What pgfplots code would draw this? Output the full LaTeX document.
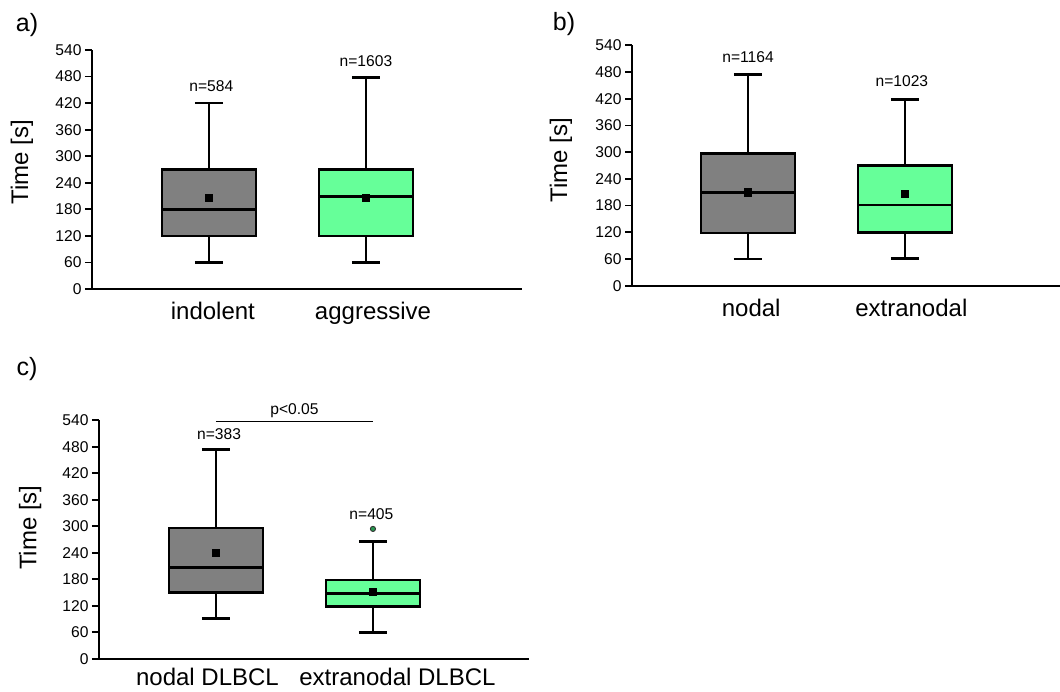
\documentclass[border=0pt]{standalone}
\usepackage{fontspec}
\setmainfont{Liberation Sans}
\usepackage{pgfplots}
\pgfplotsset{compat=1.18}
\usepgfplotslibrary{statistics}

\definecolor{boxgray}{RGB}{128,128,128}
\definecolor{boxgreen}{RGB}{102,255,153}
\definecolor{dotgreen}{RGB}{40,150,80}

\newcommand{\tickfont}{\fontsize{15.6}{18}\selectfont}
\newcommand{\labfont}{\fontsize{24}{28}\selectfont}

\pgfplotsset{
  panel/.style={
    scale only axis,
    axis x line=bottom, axis y line=left,
    axis line style={-, line width=2pt},
    ymin=0, ymax=540, ytick={0,60,...,540},
    xtick style={draw=none},
    ytick style={line width=1.8pt, black},
    tick align=outside, major tick length=7pt,
    yticklabel style={font=\tickfont},
    xticklabel style={font=\labfont},
    /pgf/number format/assume math mode=true,
    clip=false,
    ylabel={Time [s]},
    boxplot/draw direction=y,
  },
  meanmark/.style={only marks, mark=square*, mark size=3.6pt, black},
}

\begin{document}
\begin{tikzpicture}
\useasboundingbox (0,0) rectangle (1060pt,691pt);

% a) indolent vs aggressive
\begin{axis}[panel, at={(92pt,402pt)}, anchor=south west,
  width=430pt, height=239pt, xmin=0.255, xmax=2.994,
  xtick={1.025,2.045}, xticklabels={indolent, aggressive},
  xticklabel style={yshift=-3pt},
  ylabel style={font=\labfont, anchor=center, at={(axis description cs:-0.163,0.53)}}]
\addplot[draw=black, fill=boxgray, line width=2.5pt,
  boxplot prepared={draw direction=y, draw position=1,
  lower whisker=60, lower quartile=120, median=180,
  upper quartile=270, upper whisker=420,
  box extend=0.6, whisker extend=0.18}] coordinates {};
\addplot[draw=black, fill=boxgreen, line width=2.5pt,
  boxplot prepared={draw direction=y, draw position=2,
  lower whisker=60, lower quartile=120, median=209,
  upper quartile=270, upper whisker=478,
  box extend=0.6, whisker extend=0.18}] coordinates {};
\addplot[meanmark] coordinates {(1,207) (2,207)};
\node[font=\tickfont] at (axis cs:1.015,459) {n=584};
\node[font=\tickfont] at (axis cs:2,514) {n=1603};
\end{axis}

% b) nodal vs extranodal
\begin{axis}[panel, at={(632pt,405.3pt)}, anchor=south west,
  width=428pt, height=240.4pt, xmin=0.261, xmax=2.987,
  xtick={1.02,2.04}, xticklabels={nodal, extranodal},
  xticklabel style={yshift=-3pt},
  ylabel style={font=\labfont, anchor=center, at={(axis description cs:-0.166,0.523)}}]
\addplot[draw=black, fill=boxgray, line width=2.5pt,
  boxplot prepared={draw direction=y, draw position=1,
  lower whisker=60, lower quartile=118, median=209,
  upper quartile=297, upper whisker=474,
  box extend=0.6, whisker extend=0.18}] coordinates {};
\addplot[draw=black, fill=boxgreen, line width=2.5pt,
  boxplot prepared={draw direction=y, draw position=2,
  lower whisker=61, lower quartile=120, median=181,
  upper quartile=270, upper whisker=418,
  box extend=0.6, whisker extend=0.18}] coordinates {};
\addplot[meanmark] coordinates {(1,210) (2,207)};
\node[font=\tickfont] at (axis cs:1,514) {n=1164};
\node[font=\tickfont] at (axis cs:1.98,460) {n=1023};
\end{axis}

% c) nodal DLBCL vs extranodal DLBCL
\begin{axis}[panel, at={(99pt,32.3pt)}, anchor=south west,
  width=430pt, height=238.4pt, xmin=0.255, xmax=2.994,
  xtick={0.946,2.156}, xticklabels={nodal DLBCL, extranodal DLBCL},
  xticklabel style={yshift=1pt},
  ylabel style={font=\labfont, anchor=center, at={(axis description cs:-0.160,0.55)}}]
\addplot[draw=black, fill=boxgray, line width=2.5pt,
  boxplot prepared={draw direction=y, draw position=1,
  lower whisker=91, lower quartile=150, median=207,
  upper quartile=296, upper whisker=474,
  box extend=0.6, whisker extend=0.18}] coordinates {};
\addplot[draw=black, fill=boxgreen, line width=2.5pt,
  boxplot prepared={draw direction=y, draw position=2,
  lower whisker=59, lower quartile=118, median=148,
  upper quartile=178, upper whisker=265,
  box extend=0.6, whisker extend=0.18}] coordinates {};
\addplot[only marks, mark=*, mark size=2.6pt, draw=black!80,
  fill=dotgreen, line width=0.9pt] coordinates {(2,294)};
\addplot[meanmark] coordinates {(1,241) (2,152)};
\addplot[black, line width=1pt] coordinates {(1,538) (2,538)};
\node[font=\tickfont] at (axis cs:1.5,562) {p<0.05};
\node[font=\tickfont] at (axis cs:1.02,508) {n=383};
\node[font=\tickfont] at (axis cs:1.99,327) {n=405};
\end{axis}

\node[font=\fontsize{25}{30}\selectfont] at (27pt,666pt) {a)};
\node[font=\fontsize{25}{30}\selectfont] at (564pt,667pt) {b)};
\node[font=\fontsize{25}{30}\selectfont] at (27pt,322pt) {c)};
\end{tikzpicture}
\end{document}
